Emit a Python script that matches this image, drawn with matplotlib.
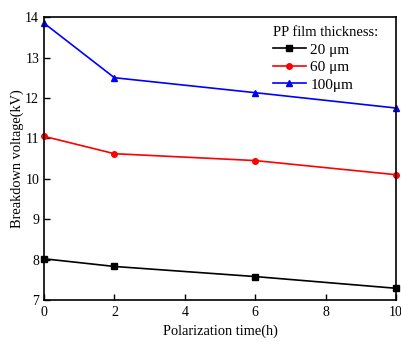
import matplotlib
matplotlib.use('Agg')
import matplotlib.pyplot as plt
plt.rcParams['font.family'] = 'Liberation Serif'
plt.rcParams['mathtext.fontset'] = 'stix'

# ===== data =====
time_h = [0, 2, 6, 10]
v_20 = [8.02, 7.83, 7.58, 7.29]
v_60 = [11.05, 10.62, 10.45, 10.10]
v_100 = [13.85, 12.50, 12.13, 11.75]
labels = ["20 μm", "60 μm", "100μm"]

fig = plt.figure(figsize=(4.02, 3.42), dpi=100)
ax = fig.add_axes([0.1095, 0.1228, 0.8755, 0.8272])

ax.plot(time_h, v_20, color='black', marker='s', markersize=4, linewidth=1.2, label=labels[0], clip_on=False)
ax.plot(time_h, v_60, color='red', marker='o', markersize=4, linewidth=1.2, label=labels[1], clip_on=False)
ax.plot(time_h, v_100, color='blue', marker='^', markersize=4.5, linewidth=1.2, label=labels[2], clip_on=False)

ax.set_xlim(0, 10)
ax.set_ylim(7, 14)
ax.set_xticks([0, 2, 4, 6, 8, 10])
ax.set_yticks(range(7, 15))
ax.tick_params(direction='in', labelsize=10, length=4, width=1)
ax.tick_params(axis='x', pad=4)
for s in ax.spines.values():
    s.set_linewidth(1.2)

ax.set_xlabel("Polarization time(h)", fontsize=10.4, labelpad=4.5)
ax.set_ylabel("Breakdown voltage(kV)", fontsize=10.4, labelpad=1)

leg = ax.legend(title="PP film thickness:", frameon=False, loc='upper right',
                bbox_to_anchor=(0.966, 0.99), borderaxespad=0,
                fontsize=11, title_fontsize=10.5, handlelength=2.15,
                labelspacing=0.25, handletextpad=0.3, alignment='left')

plt.savefig("out.png", dpi=100)
